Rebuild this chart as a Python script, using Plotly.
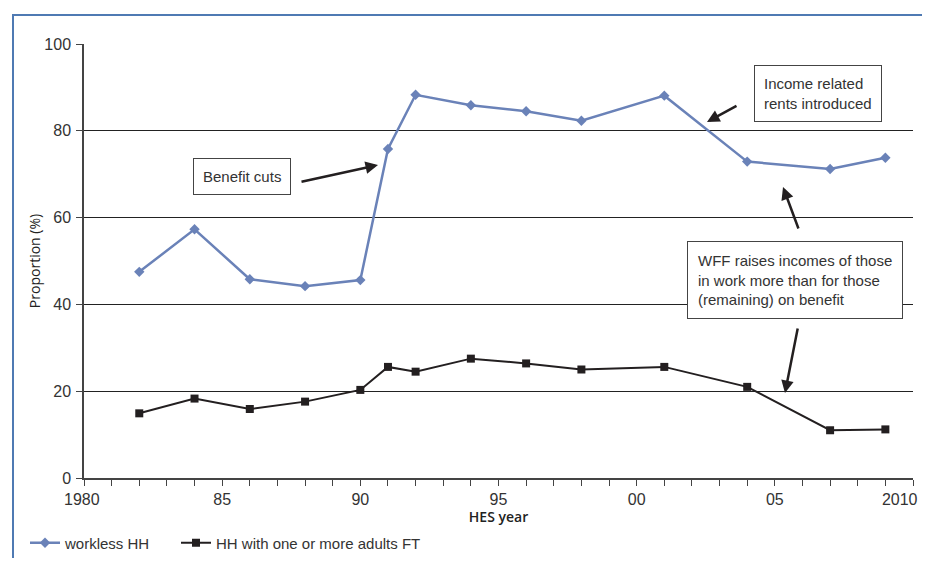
import plotly.graph_objects as go

# ---- data ----
years_workless = [1982, 1984, 1986, 1988, 1990, 1991, 1992, 1994, 1996, 1998, 2001, 2004, 2007, 2009]
workless_hh = [47.5, 57.3, 45.8, 44.2, 45.6, 75.8, 88.3, 85.9, 84.5, 82.3, 88.1, 72.9, 71.2, 73.8]

years_ft = [1982, 1984, 1986, 1988, 1990, 1991, 1992, 1994, 1996, 1998, 2001, 2004, 2007, 2009]
ft_hh = [14.9, 18.3, 15.9, 17.6, 20.3, 25.6, 24.5, 27.5, 26.4, 25.0, 25.6, 21.0, 11.0, 11.2]

x_tickvals = [1980, 1985, 1990, 1995, 2000, 2005, 2010]
x_ticktext = ["1980\u00a0", "85", "90", "95", "00", "05", "2010" + "\u00a0" * 6]
y_tickvals = [0, 20, 40, 60, 80, 100]

BLUE = "#6a82b8"
DARK = "#231f20"
TXT = "#333333"
FONT = "Liberation Sans"

fig = go.Figure()
fig.add_trace(go.Scatter(
    x=years_workless, y=workless_hh, name="workless HH", mode="lines+markers",
    line=dict(color=BLUE, width=2.5),
    marker=dict(symbol="diamond", size=8, color=BLUE), legend="legend"))
fig.add_trace(go.Scatter(
    x=years_ft, y=ft_hh, name="HH with one or more adults FT", mode="lines+markers",
    line=dict(color=DARK, width=2),
    marker=dict(symbol="square", size=8, color=DARK), legend="legend2"))

# the page body adds an 8px margin; figure pixel = page pixel - 8
OFF = 8
W, H = 930 - OFF, 566 - 2 * OFF
L, R, T, B = 84 - OFF, 913 - OFF, 44 - OFF, 478 - OFF


def px2x(px):
    return 1980 + (px - OFF - L) / (R - L) * 30


def py2y(py):
    return (B - (py - OFF)) / (B - T) * 100


box_font = dict(family=FONT, size=15, color=TXT)
annotations = [
    dict(x=px2x(242), y=py2y(176), xref="x", yref="y", text="Benefit cuts",
         showarrow=False, font=box_font, bordercolor="#444", borderwidth=1,
         borderpad=9, bgcolor="white"),
    dict(x=px2x(818), y=py2y(93.5), xref="x", yref="y",
         text="Income related<br>rents introduced", align="left",
         showarrow=False, font=box_font, bordercolor="#444", borderwidth=1,
         borderpad=9, bgcolor="white"),
    dict(x=px2x(795), y=py2y(279.5), xref="x", yref="y",
         text="WFF raises incomes of those<br>in work more than for those<br>(remaining) on benefit",
         align="left", showarrow=False, font=box_font, bordercolor="#444",
         borderwidth=1, borderpad=10, bgcolor="white"),
    # arrows
    dict(x=px2x(378), y=py2y(165), xref="x", yref="y", text="", showarrow=True,
         ax=-78, ay=17, arrowhead=2, arrowsize=1, arrowwidth=2.5, arrowcolor=DARK),
    dict(x=px2x(707), y=py2y(122), xref="x", yref="y", text="", showarrow=True,
         ax=31, ay=-17, arrowhead=2, arrowsize=1, arrowwidth=2.5, arrowcolor=DARK),
    dict(x=px2x(785), y=py2y(393), xref="x", yref="y", text="", showarrow=True,
         ax=13, ay=-66, arrowhead=2, arrowsize=1, arrowwidth=2.5, arrowcolor=DARK),
    dict(x=px2x(783), y=py2y(187), xref="x", yref="y", text="", showarrow=True,
         ax=16, ay=43, arrowhead=2, arrowsize=1, arrowwidth=2.5, arrowcolor=DARK),
]

# outer frame (blue) in paper coords
pw, ph = R - L, B - T
shapes = [dict(type="rect", xref="paper", yref="paper",
               x0=(13 - OFF - L) / pw, x1=(960 - L) / pw,
               y0=(B - 600) / ph, y1=(B - (15 - OFF)) / ph,
               line=dict(color="#4f7ab3", width=2), fillcolor="rgba(0,0,0,0)",
               layer="below")]

legend_common = dict(orientation="h", xref="container", yref="container",
                     xanchor="left", yanchor="middle",
                     font=dict(family=FONT, size=15, color=TXT),
                     bgcolor="rgba(0,0,0,0)", itemwidth=30)

fig.update_layout(
    width=W, height=H,
    margin=dict(l=L, r=W - R, t=T, b=H - B, autoexpand=False),
    paper_bgcolor="white", plot_bgcolor="white",
    font=dict(family=FONT, size=15, color=TXT),
    showlegend=True,
    legend=dict(legend_common, x=17 / W, y=(H - (543 - OFF)) / H),
    legend2=dict(legend_common, x=168 / W, y=(H - (543 - OFF)) / H),
    xaxis=dict(range=[1980, 2010], tickvals=x_tickvals, ticktext=x_ticktext,
               ticks="outside", ticklen=6, tickcolor="#444", showgrid=False,
               showline=True, linecolor="#444", linewidth=1.5, zeroline=False,
               automargin=False, ticklabeloverflow="allow",
               tickfont=dict(size=16, color=TXT),
               minor=dict(dtick=1, tick0=1980, ticks="outside", ticklen=6,
                          tickcolor="#444", showgrid=False),
               title=dict(text="HES year", standoff=4,
                          font=dict(family="Open Sans", size=14, color="#222", weight=600))),
    yaxis=dict(range=[0, 100], tickvals=y_tickvals, ticks="outside", ticklen=6,
               tickcolor="#444", showgrid=True, gridcolor="#222", gridwidth=1,
               showline=True, linecolor="#444", linewidth=1.5, zeroline=False,
               automargin=False, ticklabelstandoff=2,
               tickfont=dict(size=16, color=TXT),
               title=dict(text="Proportion (%)", standoff=0,
                          font=dict(family="Open Sans", size=14, color="#222"))),
    annotations=annotations,
    shapes=shapes,
)

fig.write_html("out.html")
